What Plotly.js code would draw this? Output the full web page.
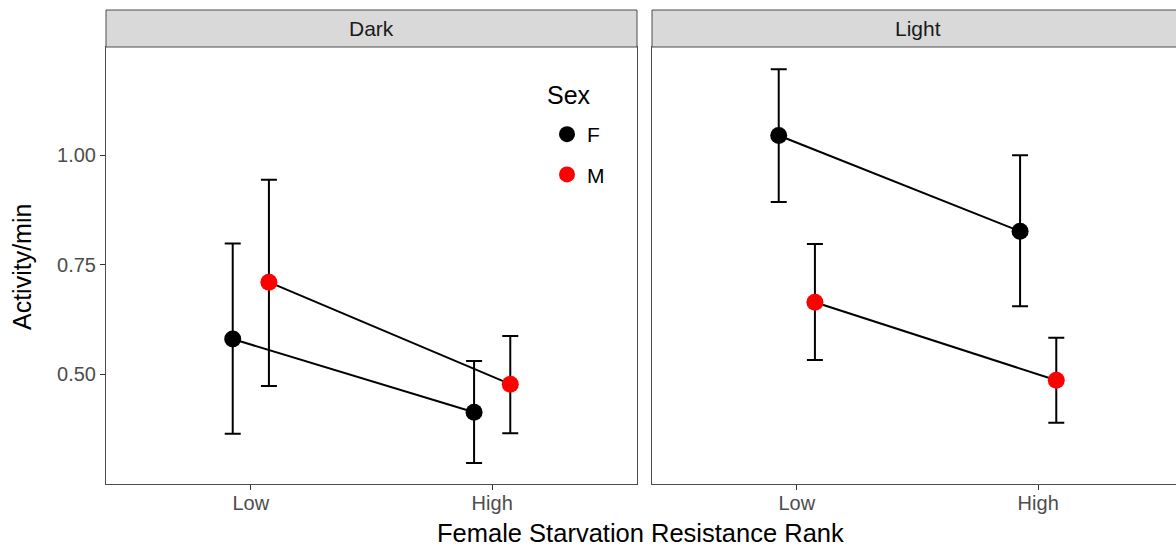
<!DOCTYPE html>
<html>
<head>
<meta charset="utf-8">
<script src="https://cdn.plot.ly/plotly-3.0.1.min.js"></script>
<style>html,body{margin:0;padding:0;background:#fff;}#chart{width:1176px;height:547px;}</style>
</head>
<body>
<div id="chart"></div>
<script>
// ---- data ----
const categories = ["Low", "High"];
const panels = ["Dark", "Light"];
const sexes = ["F", "M"];
// mean activity/min, per panel, per sex, per category (Low, High)
const darkF = [0.580, 0.413];
const darkM = [0.710, 0.477];
const lightF = [1.045, 0.826];
const lightM = [0.664, 0.486];
// error bar upper / lower ends
const darkFUpper = [0.798, 0.530];
const darkFLower = [0.364, 0.297];
const darkMUpper = [0.944, 0.587];
const darkMLower = [0.473, 0.365];
const lightFUpper = [1.196, 1.000];
const lightFLower = [0.893, 0.655];
const lightMUpper = [0.797, 0.583];
const lightMLower = [0.532, 0.389];
const yTickVals = [0.50, 0.75, 1.00];
const yTickText = ["0.50", "0.75", "1.00"];

// ---- styling ----
const colors = {F: "#000000", M: "#FF0000"};
const dodge = {F: -0.075, M: 0.075};
const series = {
  Dark: {F: [darkF, darkFUpper, darkFLower], M: [darkM, darkMUpper, darkMLower]},
  Light: {F: [lightF, lightFUpper, lightFLower], M: [lightM, lightMUpper, lightMLower]}
};

const traces = [];
panels.forEach((p, pi) => {
  const xa = pi === 0 ? "x" : "x2";
  const ya = pi === 0 ? "y" : "y2";
  sexes.forEach(s => {
    const [vals, up, lo] = series[p][s];
    const xs = categories.map((c, i) => i + 1 + dodge[s]);
    traces.push({
      type: "scatter", mode: "lines", x: xs, y: vals, xaxis: xa, yaxis: ya,
      line: {color: "#000", width: 2}, showlegend: false, hoverinfo: "skip"
    });
  });
  sexes.forEach(s => {
    const [vals, up, lo] = series[p][s];
    const xs = categories.map((c, i) => i + 1 + dodge[s]);
    traces.push({
      type: "scatter", mode: "markers", x: xs, y: vals, xaxis: xa, yaxis: ya,
      name: s, legendgroup: s, showlegend: pi === 0,
      marker: {color: colors[s], size: 17},
      error_y: {type: "data", symmetric: false,
        array: vals.map((v, i) => up[i] - v),
        arrayminus: vals.map((v, i) => v - lo[i]),
        color: "#000", thickness: 2, width: 8}
    });
  });
});

const W = 1176, H = 547;
const px = v => v / W;
const py = v => (H - v) / H;
const yRange = [0.249, 1.247];
const FONT = "Liberation Sans, Arial, Helvetica, sans-serif";
const tickFont = {family: FONT, size: 20, color: "#4D4D4D"};
const axisCommon = {
  showgrid: false, zeroline: false, showline: true, linecolor: "#4D4D4D", linewidth: 1,
  ticks: "outside", ticklen: 5, tickcolor: "#333333", tickwidth: 1, tickfont: tickFont
};

const layout = {
  width: W, height: H,
  margin: {l: 0, r: 0, t: 0, b: 0},
  paper_bgcolor: "#fff", plot_bgcolor: "#fff",
  font: {family: FONT},
  xaxis: Object.assign({}, axisCommon, {domain: [px(106), px(637)], range: [0.4, 2.6],
    tickvals: [1, 2], ticktext: categories, mirror: true, anchor: "y", ticklabelstandoff: -4}),
  xaxis2: Object.assign({}, axisCommon, {domain: [px(652), 1], range: [0.4, 2.571],
    tickvals: [1, 2], ticktext: categories, mirror: true, anchor: "y2", ticklabelstandoff: -4}),
  yaxis: Object.assign({}, axisCommon, {domain: [py(484), py(47)], range: yRange,
    tickvals: yTickVals, ticktext: yTickText, mirror: true, anchor: "x"}),
  yaxis2: Object.assign({}, axisCommon, {domain: [py(484), py(47)], range: yRange,
    tickvals: yTickVals, ticktext: yTickText, showticklabels: false, ticks: "", mirror: false, anchor: "x2"}),
  showlegend: true,
  legend: {
    x: px(547), y: py(114), xanchor: "left", yanchor: "top",
    bgcolor: "rgba(0,0,0,0)", borderwidth: 0,
    font: {size: 21, color: "#000"},
    tracegroupgap: 10, itemsizing: "trace"
  },
  shapes: [
    {type: "rect", xref: "paper", yref: "paper", x0: px(106), x1: px(637), y0: py(47), y1: py(10),
      fillcolor: "#D9D9D9", line: {color: "#4D4D4D", width: 1}},
    {type: "rect", xref: "paper", yref: "paper", x0: px(652), x1: px(1180), y0: py(47), y1: py(10),
      fillcolor: "#D9D9D9", line: {color: "#4D4D4D", width: 1}}
  ],
  annotations: [
    {text: "Dark", xref: "paper", yref: "paper", x: px(371.5), y: py(29), showarrow: false,
      font: {size: 21, color: "#1A1A1A"}, xanchor: "center", yanchor: "middle"},
    {text: "Light", xref: "paper", yref: "paper", x: px(918), y: py(29), showarrow: false,
      font: {size: 21, color: "#1A1A1A"}, xanchor: "center", yanchor: "middle"},
    {text: "Sex", xref: "paper", yref: "paper", x: px(545), y: py(95), showarrow: false,
      font: {size: 25, color: "#000"}, xanchor: "left", yanchor: "middle"},
    {text: "Female Starvation Resistance Rank", xref: "paper", yref: "paper", x: px(640), y: py(533),
      showarrow: false, font: {size: 25.5, color: "#000"}, xanchor: "center", yanchor: "middle"},
    {text: "Activity/min", xref: "paper", yref: "paper", x: px(22), y: py(267), textangle: -90,
      showarrow: false, font: {size: 25, color: "#000"}, xanchor: "center", yanchor: "middle"}
  ]
};

Plotly.newPlot("chart", traces, layout, {displayModeBar: false, staticPlot: true});
</script>
</body>
</html>
